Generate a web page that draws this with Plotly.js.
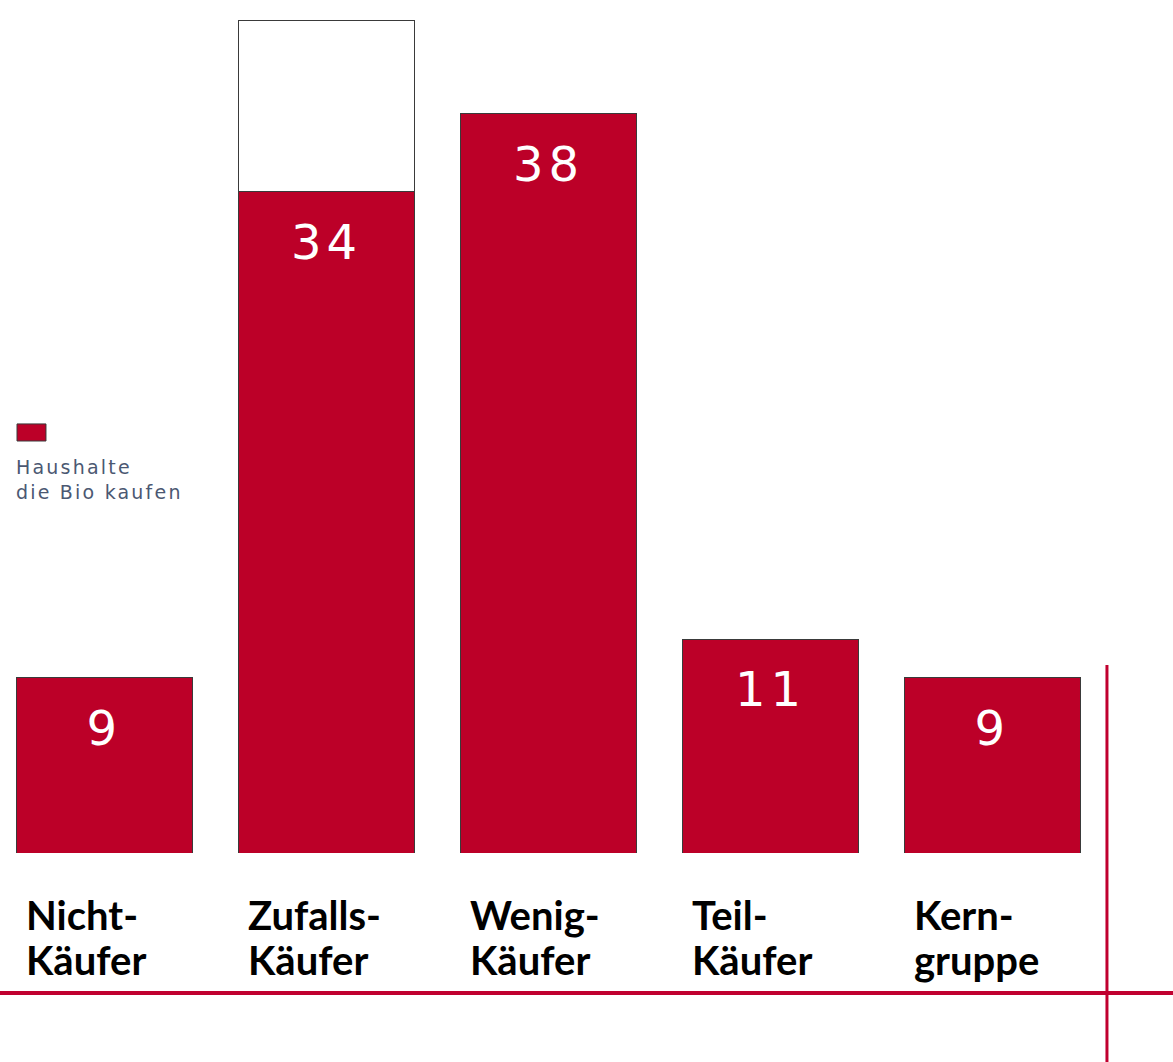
<!DOCTYPE html>
<html>
<head>
<meta charset="utf-8">
<script src="https://cdn.plot.ly/plotly-3.0.1.min.js"></script>
<style>
html,body{margin:0;padding:0;background:#fff;}
#chart{width:1173px;height:1062px;}
</style>
</head>
<body>
<div id="chart"></div>
<script>
// ---- data ----
var categories = ["Nicht-Käufer", "Zufalls-Käufer", "Wenig-Käufer", "Teil-Käufer", "Kerngruppe"];
var labelTop = ["Nicht-", "Zufalls-", "Wenig-", "Teil-", "Kern-"];
var labelBottom = ["Käufer", "Käufer", "Käufer", "Käufer", "gruppe"];
var bioHouseholds = [9, 34, 38, 11, 9];
var otherPart = [null, 8.8, null, null, null];
var seriesName = "Haushalte die Bio kaufen";
var legendLines = ["Haushalte", "die Bio kaufen"];

var RED = "#bc0028";
var OUTLINE = "#3a3a3a";

var traces = [
  {
    type: "bar", x: categories, y: bioHouseholds, name: seriesName,
    marker: {color: RED, line: {color: OUTLINE, width: 1}},
    width: 0.797, hoverinfo: "x+y", showlegend: false
  },
  {
    type: "bar", x: categories, y: otherPart, name: "",
    marker: {color: "#ffffff", line: {color: OUTLINE, width: 1}},
    width: 0.797, hoverinfo: "skip", showlegend: false
  }
];

var annotations = [];
categories.forEach(function (c, i) {
  annotations.push({
    x: c, y: bioHouseholds[i], xref: "x", yref: "y",
    text: String(bioHouseholds[i]), showarrow: false,
    xanchor: "center", yanchor: "top", yshift: -20,
    font: {family: "DejaVu Sans", size: 48, color: "#ffffff"}
  });
  annotations.push({
    x: c, y: 0, xref: "x", yref: "y",
    text: labelTop[i], showarrow: false, align: "left",
    xanchor: "left", yanchor: "top", xshift: -81, yshift: -36,
    font: {family: "Lato", size: 40, color: "#000000", weight: 700}
  });
  annotations.push({
    x: c, y: 0, xref: "x", yref: "y",
    text: labelBottom[i], showarrow: false, align: "left",
    xanchor: "left", yanchor: "top", xshift: -81, yshift: -81,
    font: {family: "Lato", size: 40, color: "#000000", weight: 700}
  });
});
annotations.push({
  x: 0.012, y: 0.468, xref: "paper", yref: "paper",
  text: legendLines.join("<br>"), showarrow: false, xanchor: "left", yanchor: "top", align: "left",
  font: {family: "DejaVu Sans", size: 19, color: "#4b5872"}
});

var layout = {
  width: 1173, height: 1062,
  margin: {l: 0, r: 0, t: 0, b: 209, pad: 0},
  paper_bgcolor: "#ffffff", plot_bgcolor: "#ffffff",
  barmode: "stack",
  showlegend: false,
  xaxis: {
    type: "category", categoryorder: "array", categoryarray: categories,
    range: [-0.4707, 4.813], showticklabels: false, showgrid: false,
    zeroline: false, showline: false, ticks: "", fixedrange: true
  },
  yaxis: {
    range: [0, 43.86], showticklabels: false, showgrid: false,
    zeroline: false, showline: false, ticks: "", fixedrange: true
  },
  annotations: annotations,
  shapes: [
    {type: "line", xref: "paper", yref: "paper", x0: 0, x1: 1, y0: -0.1641, y1: -0.1641,
     line: {color: "#c0002f", width: 4}},
    {type: "line", xref: "paper", yref: "paper", x0: 0.9437, x1: 0.9437, y0: 0.2204, y1: -0.25,
     line: {color: "#c0002f", width: 3}},
    {type: "rect", xref: "paper", yref: "paper", x0: 0.0145, x1: 0.0392, y0: 0.483, y1: 0.503,
     fillcolor: RED, line: {color: OUTLINE, width: 1}}
  ]
};

Plotly.newPlot("chart", traces, layout, {displayModeBar: false, staticPlot: true}).then(function () {
  var groups = document.querySelectorAll("#chart g.annotation");
  groups.forEach(function (g) {
    var t = g.querySelector("text.annotation-text");
    if (!t) return;
    var txt = t.textContent;
    if (/^\d+$/.test(txt)) {
      t.style.letterSpacing = "5px";
    } else if (txt.indexOf("Haushalte") === 0) {
      t.style.letterSpacing = "2.2px";
    }
  });
});
</script>
</body>
</html>
